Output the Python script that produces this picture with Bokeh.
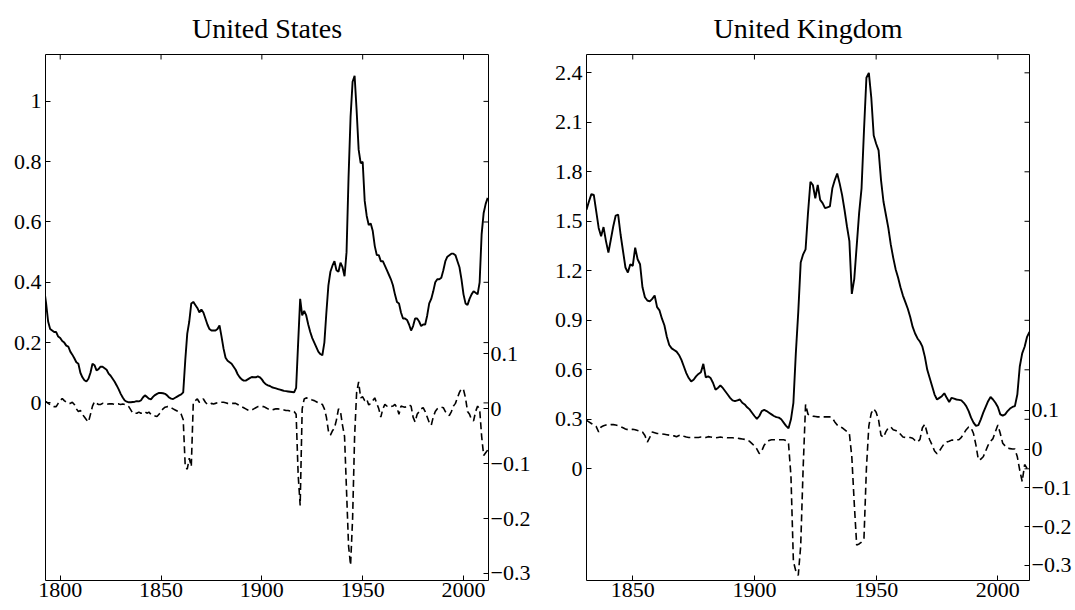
import math
from bokeh.plotting import figure
from bokeh.models import Range1d, LinearAxis, FixedTicker, CustomJSTickFormatter, Title
from bokeh.layouts import row
from bokeh.embed import file_html
from bokeh.resources import INLINE

FONT = "Liberation Serif"

# ---------------- United States (1792-2012) ----------------
us_years = list(range(1792, 2013))
us_debt = [
    0.38, 0.33, 0.27, 0.245, 0.24, 0.235, 0.235, 0.22,
    0.215, 0.205, 0.20, 0.19, 0.187, 0.17, 0.16, 0.148, 0.135, 0.13,
    0.10, 0.085, 0.075, 0.071, 0.08, 0.10, 0.13, 0.125, 0.108, 0.112,
    0.12, 0.12, 0.115, 0.11, 0.097, 0.09, 0.08, 0.07, 0.058, 0.045,
    0.03, 0.018, 0.008, 0.004, 0.002, 0.002, 0.003, 0.004, 0.006, 0.005,
    0.008, 0.018, 0.025, 0.02, 0.014, 0.012, 0.02, 0.026, 0.03, 0.033,
    0.033, 0.032, 0.03, 0.025, 0.018, 0.014, 0.013, 0.017, 0.021, 0.025,
    0.028, 0.035, 0.14, 0.23, 0.27, 0.33, 0.335, 0.325, 0.315, 0.30,
    0.31, 0.30, 0.28, 0.26, 0.245, 0.24, 0.24, 0.24, 0.245, 0.257,
    0.22, 0.18, 0.15, 0.14, 0.135, 0.13, 0.12, 0.11, 0.095, 0.085,
    0.078, 0.074, 0.074, 0.078, 0.082, 0.086, 0.085, 0.085, 0.088, 0.085,
    0.078, 0.068, 0.062, 0.058, 0.056, 0.052, 0.05, 0.048, 0.046, 0.044,
    0.042, 0.040, 0.039, 0.038, 0.037, 0.036, 0.035, 0.05, 0.20, 0.345,
    0.29, 0.305, 0.29, 0.26, 0.235, 0.215, 0.20, 0.185, 0.17, 0.162,
    0.158, 0.20, 0.30, 0.39, 0.435, 0.455, 0.47, 0.44, 0.435, 0.465,
    0.45, 0.42, 0.50, 0.75, 0.95, 1.065, 1.085, 0.97, 0.84, 0.795,
    0.80, 0.67, 0.62, 0.59, 0.595, 0.57, 0.52, 0.49, 0.49, 0.47,
    0.47, 0.455, 0.44, 0.425, 0.41, 0.39, 0.36, 0.335, 0.33, 0.30,
    0.28, 0.28, 0.275, 0.26, 0.24, 0.255, 0.28, 0.28, 0.27, 0.255,
    0.26, 0.26, 0.29, 0.33, 0.345, 0.37, 0.40, 0.41, 0.41, 0.415,
    0.44, 0.47, 0.485, 0.49, 0.495, 0.495, 0.49, 0.47, 0.45, 0.41,
    0.36, 0.33, 0.325, 0.345, 0.36, 0.37, 0.365, 0.36, 0.40, 0.56,
    0.63, 0.66, 0.68,
]
us_gap = [
    0.012, 0.013, 0.01, 0.008, 0.005, 0.004, 0.004, 0.01,
    0.015, 0.019, 0.015, 0.012, 0.01, 0.01, 0.012, 0.008, 0.0, -0.005,
    -0.003, -0.01, -0.015, -0.02, -0.024, -0.01, 0.005, 0.013, 0.01, 0.008,
    0.008, 0.01, 0.009, 0.008, 0.009, 0.009, 0.009, 0.008, 0.009, 0.009,
    0.008, 0.009, 0.008, 0.006, 0.004, -0.002, -0.008, -0.008, -0.008, -0.006,
    -0.008, -0.007, -0.005, -0.008, -0.006, -0.01, -0.012, -0.013, -0.014, -0.01,
    -0.005, 0.0, 0.003, 0.004, 0.004, 0.002, 0.0, -0.002, -0.004, -0.006,
    -0.01, -0.02, -0.105, -0.11, -0.09, -0.105, 0.012, 0.015, 0.018, 0.012,
    0.015, 0.018, 0.012, 0.008, 0.008, 0.01, 0.009, 0.01, 0.011, 0.012,
    0.012, 0.012, 0.011, 0.01, 0.01, 0.01, 0.01, 0.01, 0.008, 0.006,
    0.004, 0.002, 0.0, -0.002, -0.003, -0.002, 0.0, 0.002, 0.004, 0.004,
    0.004, 0.004, 0.002, 0.0, -0.002, -0.002, -0.001, 0.0, 0.0, -0.001,
    -0.002, -0.002, -0.003, -0.003, -0.004, -0.004, -0.005, -0.01, -0.12, -0.176,
    0.0, 0.018, 0.02, 0.019, 0.018, 0.016, 0.015, 0.013, 0.011, 0.01,
    0.008, 0.0, -0.015, -0.04, -0.048, -0.04, -0.035, -0.02, 0.0, -0.005,
    -0.03, -0.05, -0.15, -0.25, -0.285, -0.20, -0.05, 0.03, 0.049, 0.02,
    0.022, 0.015, 0.018, 0.007, 0.01, 0.015, 0.02, 0.01, 0.0, -0.015,
    0.0, 0.008, 0.005, 0.006, 0.004, 0.005, 0.008, 0.002, -0.01, 0.005,
    0.004, 0.003, 0.005, 0.007, 0.005, -0.015, -0.024, -0.01, -0.005, 0.0,
    0.002, -0.005, -0.015, -0.025, -0.03, -0.015, -0.005, 0.0, 0.002, 0.003,
    0.002, -0.005, -0.01, -0.012, -0.005, 0.005, 0.01, 0.02, 0.03, 0.037,
    0.035, 0.02, -0.005, -0.01, -0.02, -0.022, -0.005, 0.005, 0.0, -0.05,
    -0.085, -0.08, -0.075,
]

# ---------------- United Kingdom (1831-2013) ----------------
uk_years = list(range(1831, 2014))
uk_debt = [
    1.57, 1.62, 1.665, 1.66, 1.56, 1.46, 1.41, 1.465, 1.38,
    1.31, 1.39, 1.47, 1.535, 1.54, 1.42, 1.32, 1.22, 1.19, 1.24,
    1.23, 1.34, 1.27, 1.24, 1.10, 1.04, 1.02, 1.015, 1.03, 1.05,
    0.98, 0.96, 0.91, 0.87, 0.80, 0.75, 0.73, 0.72, 0.71, 0.69,
    0.66, 0.62, 0.58, 0.55, 0.53, 0.54, 0.56, 0.575, 0.585, 0.636,
    0.555, 0.56, 0.55, 0.52, 0.48, 0.49, 0.505, 0.49, 0.47, 0.45,
    0.43, 0.415, 0.41, 0.415, 0.42, 0.40, 0.39, 0.373, 0.36, 0.34,
    0.32, 0.303, 0.32, 0.35, 0.357, 0.35, 0.34, 0.33, 0.32, 0.313,
    0.31, 0.30, 0.28, 0.26, 0.246, 0.30, 0.40, 0.70, 0.95, 1.25,
    1.30, 1.33, 1.55, 1.74, 1.72, 1.64, 1.72, 1.63, 1.61, 1.58,
    1.585, 1.59, 1.70, 1.75, 1.79, 1.73, 1.66, 1.57, 1.47, 1.38,
    1.06, 1.15, 1.35, 1.55, 1.70, 2.05, 2.37, 2.40, 2.25, 2.02,
    1.97, 1.93, 1.75, 1.62, 1.54, 1.46, 1.36, 1.28, 1.21, 1.16,
    1.10, 1.05, 1.01, 0.97, 0.92, 0.86, 0.82, 0.79, 0.77, 0.74,
    0.68, 0.60, 0.55, 0.50, 0.45, 0.42, 0.43, 0.44, 0.458, 0.43,
    0.405, 0.43, 0.425, 0.42, 0.418, 0.415, 0.40, 0.38, 0.35, 0.31,
    0.28, 0.26, 0.265, 0.30, 0.34, 0.375, 0.41, 0.435, 0.42, 0.40,
    0.375, 0.33, 0.322, 0.33, 0.35, 0.365, 0.375, 0.38, 0.45, 0.62,
    0.70, 0.74, 0.80, 0.83,
]
uk_gap = [
    0.074, 0.070, 0.066, 0.062, 0.058, 0.044, 0.057, 0.060, 0.062,
    0.062, 0.063, 0.063, 0.062, 0.06, 0.058, 0.055, 0.052, 0.05, 0.05,
    0.051, 0.05, 0.048, 0.046, 0.044, 0.035, 0.018, 0.03, 0.044, 0.042,
    0.04, 0.04, 0.039, 0.038, 0.037, 0.036, 0.035, 0.034, 0.032, 0.035,
    0.036, 0.033, 0.031, 0.03, 0.03, 0.03, 0.03, 0.03, 0.031, 0.031,
    0.03, 0.032, 0.031, 0.03, 0.029, 0.03, 0.031, 0.03, 0.03, 0.029,
    0.029, 0.029, 0.028, 0.028, 0.027, 0.026, 0.025, 0.024, 0.02, 0.014,
    0.008, 0.0, -0.012, -0.005, 0.01, 0.018, 0.022, 0.024, 0.024, 0.024,
    0.024, 0.024, 0.024, 0.022, 0.014, -0.07, -0.29, -0.315, -0.326, -0.25,
    -0.05, 0.115, 0.09, 0.087, 0.085, 0.084, 0.083, 0.083, 0.083, 0.083,
    0.083, 0.083, 0.08, 0.07, 0.062, 0.058, 0.055, 0.05, 0.045, 0.04,
    -0.02, -0.14, -0.248, -0.245, -0.24, -0.23, -0.05, 0.06, 0.093, 0.104,
    0.095, 0.075, 0.035, 0.03, 0.045, 0.055, 0.057, 0.05, 0.048, 0.045,
    0.038, 0.031, 0.03, 0.03, 0.03, 0.028, 0.022, 0.018, 0.025, 0.055,
    0.064, 0.04, 0.024, 0.01, -0.005, -0.012, -0.005, 0.005, 0.014, 0.018,
    0.02, 0.023, 0.023, 0.024, 0.024, 0.03, 0.04, 0.05, 0.057, 0.055,
    0.04, 0.01, -0.028, -0.026, -0.02, -0.005, 0.01, 0.02, 0.027, 0.045,
    0.062, 0.04, 0.015, 0.008, 0.003, 0.001, 0.0, 0.0, -0.02, -0.055,
    -0.084, -0.04, -0.05, -0.055,
]

us_xticks = [1800, 1850, 1900, 1950, 2000]
uk_xticks = [1850, 1900, 1950, 2000]
us_left_ticks = [0, 0.2, 0.4, 0.6, 0.8, 1.0]
uk_left_ticks = [0, 0.3, 0.6, 0.9, 1.2, 1.5, 1.8, 2.1, 2.4]
right_ticks = [-0.3, -0.2, -0.1, 0, 0.1]

FMT_CODE = """
const v = Math.round(tick * 10) / 10;
if (Math.abs(v) < 1e-9) { return "0"; }
return v.toString().replace("-", "\u2212");
"""

TICK_FS = "22px"
TICK_LEN = 5


def style_axis(ax, ticker, standoff):
    ax.ticker = ticker
    ax.major_tick_in = TICK_LEN
    ax.major_tick_out = 0
    ax.minor_tick_in = 0
    ax.minor_tick_out = 0
    ax.major_tick_line_color = "black"
    ax.major_tick_line_width = 1
    ax.axis_line_color = None
    ax.major_label_text_font = FONT
    ax.major_label_text_color = "black"
    ax.major_label_text_font_size = TICK_FS
    ax.major_label_standoff = standoff


def panel(title, years, debt, gap, xr, yl, yr, xticks, lticks,
          border_left, border_right):
    p = figure(frame_width=443, frame_height=526,
               x_range=Range1d(*xr), y_range=Range1d(*yl),
               output_backend="svg", toolbar_location=None,
               min_border_left=border_left, min_border_right=border_right,
               min_border_top=54, min_border_bottom=29,
               background_fill_color="white", border_fill_color="white")
    p.extra_y_ranges = {"r": Range1d(*yr)}
    p.title = Title(text=title, align="center", text_font=FONT,
                    text_font_size="28px", text_font_style="normal",
                    text_color="black", standoff=21)
    p.outline_line_color = "black"
    p.outline_line_width = 1
    p.outline_line_alpha = 1.0
    p.xgrid.visible = False
    p.ygrid.visible = False

    style_axis(p.xaxis[0], FixedTicker(ticks=xticks), 2)
    style_axis(p.yaxis[0], FixedTicker(ticks=lticks), 4)
    p.yaxis[0].formatter = CustomJSTickFormatter(code=FMT_CODE)

    rax = LinearAxis(y_range_name="r")
    style_axis(rax, FixedTicker(ticks=right_ticks), 2)
    rax.formatter = CustomJSTickFormatter(code=FMT_CODE)
    p.add_layout(rax, "right")

    # mirrored inward ticks on the top edge (x ticks) and right edge (left-axis ticks);
    # half of each dash is clipped away by the frame, leaving an inward tick
    p.scatter([x for x in xticks], [yl[1]] * len(xticks), marker="dash",
              size=2 * TICK_LEN, angle=math.pi / 2, line_color="black",
              line_width=1)
    p.scatter([xr[1]] * len(lticks), lticks, marker="dash",
              size=2 * TICK_LEN, line_color="black", line_width=1)

    p.line(years, debt, line_color="black", line_width=1.9)
    p.line(years, gap, line_color="black", line_width=1.6,
           line_dash="7 4", y_range_name="r")
    return p


p1 = panel("United States", us_years, us_debt, us_gap,
           (1792.7, 2012.4), (-0.589, 1.1555), (-0.3128, 0.6457),
           us_xticks, us_left_ticks, 45, 45)
p2 = panel("United Kingdom", uk_years, uk_debt, uk_gap,
           (1831.0, 2013.0), (-0.677, 2.511), (-0.3394, 1.0187),
           uk_xticks, uk_left_ticks, 53, 45)

layout = row(p1, p2)
open("out.html", "w").write(file_html(layout, INLINE))
